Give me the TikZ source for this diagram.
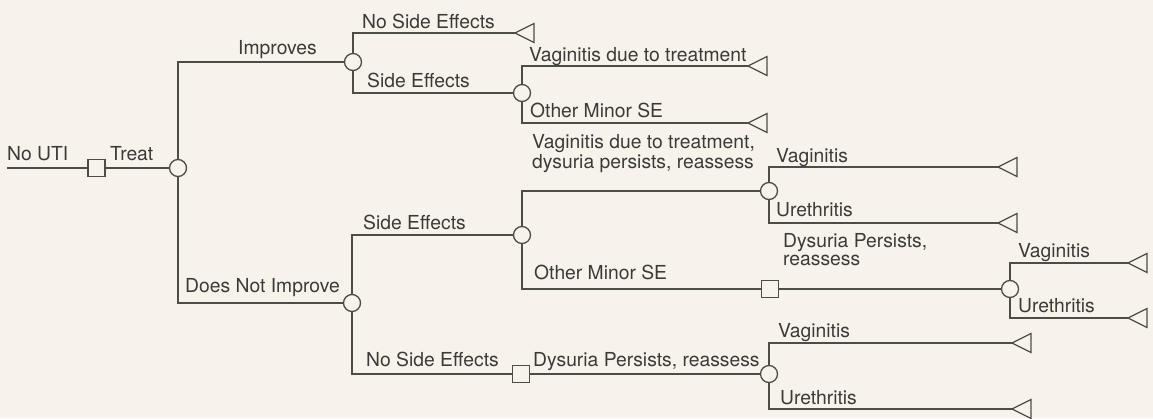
\documentclass[tikz,border=0pt]{standalone}
\usepackage{fontspec}
\setmainfont{TeX Gyre Heros}
\definecolor{paper}{RGB}{247,243,235}
\definecolor{ink}{RGB}{78,76,72}
\definecolor{txt}{RGB}{60,58,56}
\tikzset{
  term/.pic={\draw[ink,line width=1.2pt,fill=paper,line join=miter] (0,0) -- (19,-9.5) -- (19,9.5) -- cycle;}
}
\begin{document}
\begin{tikzpicture}[x=1pt,y=-1pt,
  ln/.style={draw=ink,line width=1.3pt},
  chance/.style={circle,draw=ink,line width=1.3pt,fill=paper,minimum size=17pt,inner sep=0pt},
  decis/.style={rectangle,draw=ink,line width=1.3pt,fill=paper,minimum size=17pt,inner sep=0pt},
  lbl/.style={anchor=base west,inner sep=0pt,text=txt,align=left,font=\fontsize{19.3}{17.5}\selectfont}]
\fill[paper] (0,0) rectangle (1153,418);
\useasboundingbox (0,0) rectangle (1153,418);

% decision / chance nodes
\coordinate (start) at (7,168);
\node[decis]  (s0) at (96.5,168) {};
\node[chance] (c0) at (178,168) {};
\node[chance] (c1) at (353,62) {};
\node[chance] (c2) at (522,93) {};
\node[chance] (c3) at (352,303) {};
\node[chance] (c4) at (522,235) {};
\node[decis]  (s1) at (521,374) {};
\node[chance] (c5) at (769,374) {};
\node[chance] (c6) at (769,191) {};
\node[decis]  (s2) at (770,289) {};
\node[chance] (c7) at (1010,289) {};

% terminal tips
\coordinate (t1) at (515,33);
\coordinate (t2) at (748,66);
\coordinate (t3) at (748,123);
\coordinate (t4) at (998,167);
\coordinate (t5) at (998,223);
\coordinate (t6) at (1128,263);
\coordinate (t7) at (1128,318);
\coordinate (t8) at (1012,343);
\coordinate (t9) at (1012,409);

% connectors
\draw[ln] (start) -- (s0);
\draw[ln] (s0) -- (c0);
\draw[ln] (c0) |- (c1);
\draw[ln] (c0) |- (c3);
\draw[ln] (c1) |- (t1);
\draw[ln] (c1) |- (c2);
\draw[ln] (c2) |- (t2);
\draw[ln] (c2) |- (t3);
\draw[ln] (c3) |- (c4);
\draw[ln] (c3) |- (s1);
\draw[ln] (s1) -- (c5);
\draw[ln] (c4) |- (c6);
\draw[ln] (c4) |- (s2);
\draw[ln] (c6) |- (t4);
\draw[ln] (c6) |- (t5);
\draw[ln] (s2) -- (c7);
\draw[ln] (c7) |- (t6);
\draw[ln] (c7) |- (t7);
\draw[ln] (c5) |- (t8);
\draw[ln] (c5) |- (t9);

% terminal triangles
\foreach \t in {t1,t2,t3,t4,t5,t6,t7,t8,t9} { \pic at (\t) {term}; }

% labels
\node[lbl] (l1)  at (7,160)   {No UTI};
\node[lbl] (l2)  at (110,160) {Treat};
\node[lbl] (l3)  at (238,54)  {Improves};
\node[lbl] (l4)  at (185,292) {Does Not Improve};
\node[lbl] (l5)  at (362,28)  {No Side Effects};
\node[lbl] (l6)  at (367,87)  {Side Effects};
\node[lbl] (l7)  at (529,61.5) {Vaginitis due to treatment};
\node[lbl] (l8)  at (530,117) {Other Minor SE};
\node[lbl] (l9)  at (363,229) {Side Effects};
\node[lbl] (l10) at (366,366) {No Side Effects};
\node[lbl] (l11) at (533,366.5) {Dysuria Persists, reassess};
\node[lbl] (l12) at (532,168) {Vaginitis due to treatment,\\dysuria persists, reassess};
\node[lbl] (l13) at (534,279) {Other Minor SE};
\node[lbl] (l14) at (776,162) {Vaginitis};
\node[lbl] (l15) at (776,216.5) {Urethritis};
\node[lbl] (l16) at (783,265) {Dysuria Persists,\\reassess};
\node[lbl] (l17) at (1018,257) {Vaginitis};
\node[lbl] (l18) at (1018,312) {Urethritis};
\node[lbl] (l19) at (778,337) {Vaginitis};
\node[lbl] (l20) at (780,404) {Urethritis};
\end{tikzpicture}
\end{document}
